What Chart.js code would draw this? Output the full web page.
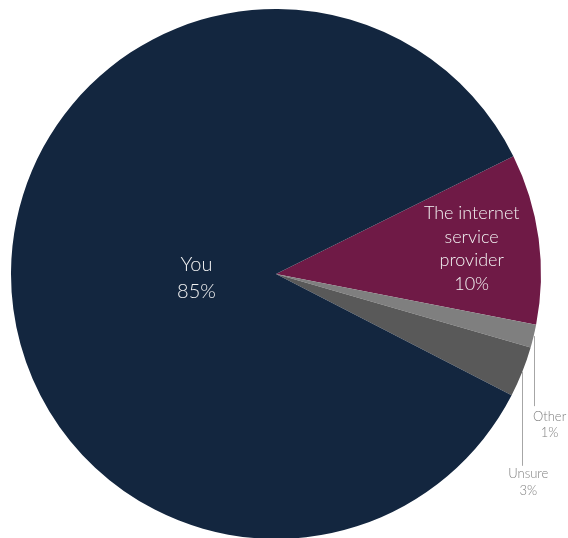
<!DOCTYPE html>
<html>
<head>
<meta charset="utf-8">
<script src="https://cdn.jsdelivr.net/npm/chart.js@4"></script>
<style>
  html, body { margin: 0; padding: 0; background: #fff; overflow: hidden; }
  #wrap { width: 568px; height: 539px; position: relative; }
</style>
</head>
<body>
<div id="wrap"><canvas id="shareChart"></canvas></div>
<script>
// data
const categories = [['The internet', 'service', 'provider'], ['Other'], ['Unsure'], ['You']];
const shares = [10.4, 1.4, 3.1, 85.1];
const sliceColors = ['#6f1a46', '#7f7f7f', '#595959', '#13263f'];

// how each label is placed (inside the slice, or below a leader line)
const labelStyle = [
    { inside: true, r: 0.745, dy: 1, size: 18, lineH: 23.5, color: '#f2f2f2' },
    { inside: false, lead: 70, gap: 11, dx: 16, size: 13, lineH: 16, color: '#808080' },
    { inside: false, lead: 94, gap: 8, dx: 6, size: 13, lineH: 17, color: '#808080' },
    { inside: true, r: 0.30, dy: 5, size: 20, lineH: 27, color: '#f2f2f2' }
];

const fontFamily = 'Lato, "Open Sans", sans-serif';

const sliceLabels = {
    id: 'sliceLabels',
    afterDatasetsDraw(chart) {
        const ctx = chart.ctx;
        const meta = chart.getDatasetMeta(0);
        meta.data.forEach((arc, i) => {
            const p = arc.getProps(['x', 'y', 'startAngle', 'endAngle', 'outerRadius'], true);
            const mid = (p.startAngle + p.endAngle) / 2;
            const st = labelStyle[i];
            const lines = categories[i].concat([Math.round(shares[i]) + '%']);
            ctx.save();
            ctx.font = '300 ' + st.size + 'px ' + fontFamily;
            ctx.fillStyle = st.color;
            ctx.textAlign = 'center';
            ctx.textBaseline = 'middle';
            if (st.inside) {
                const cx = p.x + Math.cos(mid) * p.outerRadius * st.r;
                const cy = p.y + Math.sin(mid) * p.outerRadius * st.r + st.dy;
                const top = cy - (lines.length - 1) * st.lineH / 2;
                lines.forEach((t, k) => ctx.fillText(t, cx, top + k * st.lineH));
            } else {
                const ex = p.x + Math.cos(mid) * p.outerRadius;
                const ey = p.y + Math.sin(mid) * p.outerRadius;
                ctx.strokeStyle = '#a6a6a6';
                ctx.lineWidth = 1;
                ctx.beginPath();
                ctx.moveTo(Math.round(ex) + 0.5, ey);
                ctx.lineTo(Math.round(ex) + 0.5, ey + st.lead);
                ctx.stroke();
                const top = ey + st.lead + st.gap;
                lines.forEach((t, k) => ctx.fillText(t, ex + st.dx, top + k * st.lineH));
            }
            ctx.restore();
        });
    }
};

const ctx = document.getElementById('shareChart').getContext('2d');

const share_chart = new Chart(ctx, {
    type: 'pie',
    data: {
        labels: categories,
        datasets: [{
            data: shares,
            backgroundColor: sliceColors,
            borderWidth: 0,
            hoverOffset: 0
        }]
    },
    options: {
        responsive: true,
        maintainAspectRatio: false,
        animation: false,
        rotation: 63.6,
        layout: { padding: { top: 9, left: 0, right: 16, bottom: 0 } },
        plugins: {
            legend: { display: false },
            tooltip: { enabled: false }
        }
    },
    plugins: [sliceLabels]
});
</script>
</body>
</html>
